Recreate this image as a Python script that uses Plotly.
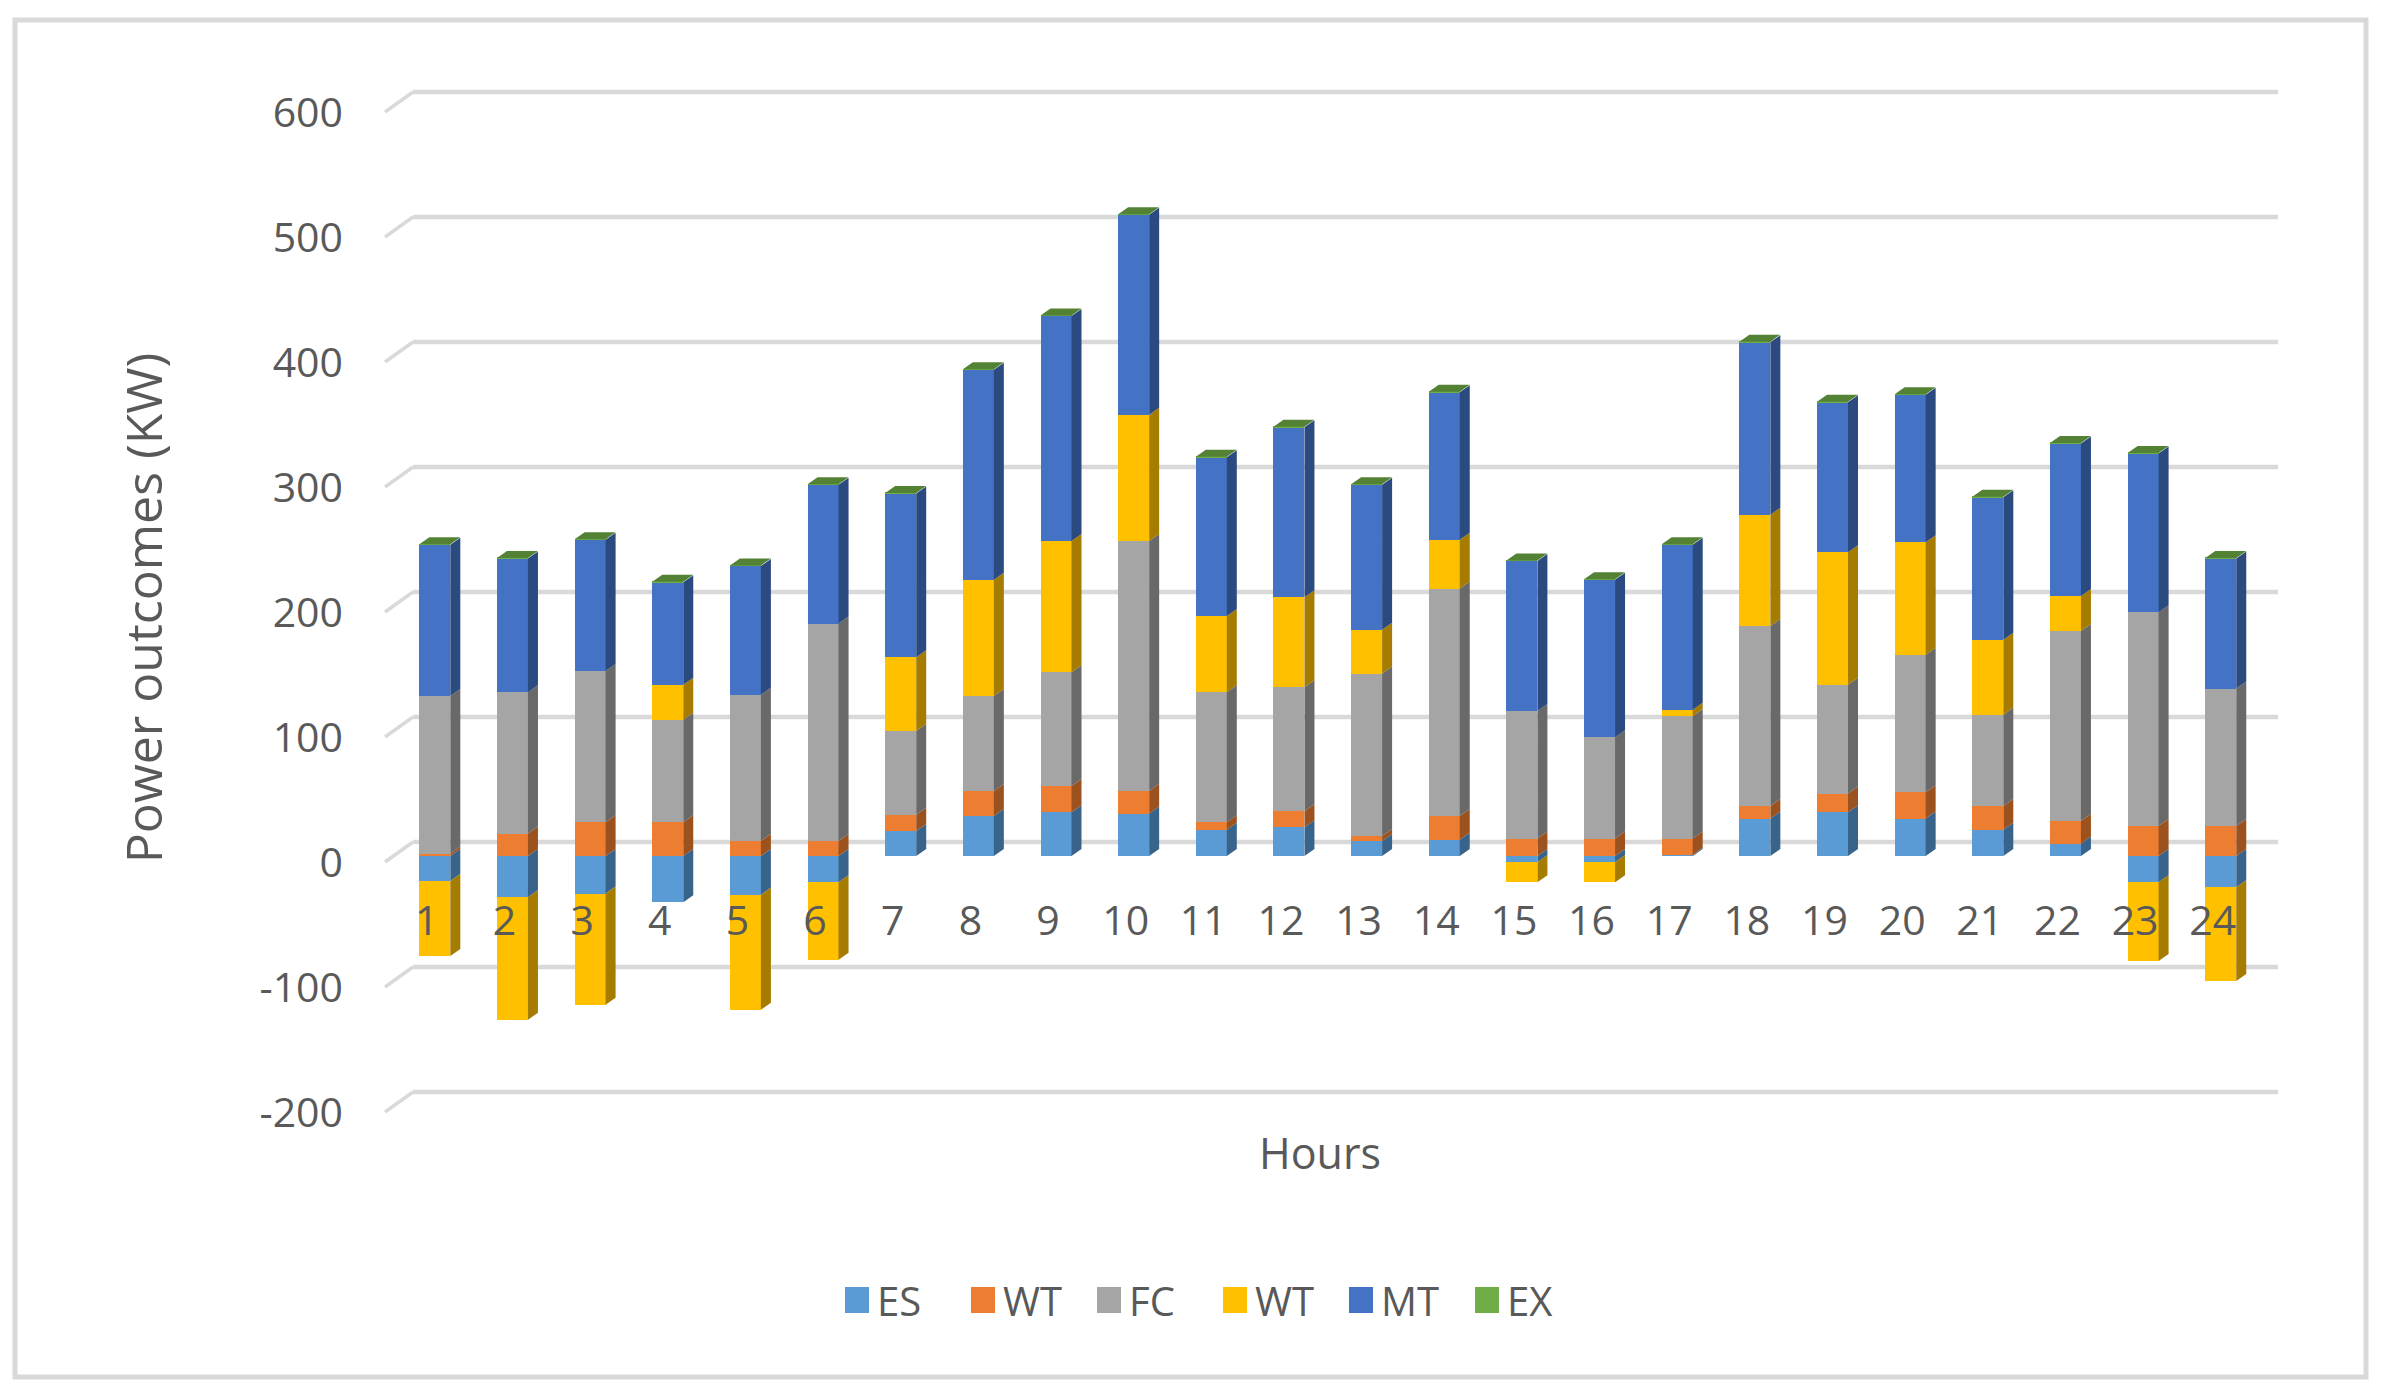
import plotly.graph_objects as go

hours = list(range(1, 25))
es = [-20, -33, -30, -37, -31, -21, 20, 32, 35, 34, 21, 23, 12, 13, -5, -5, 1, 30, 35, 30, 21, 10, -21, -25]
wt1 = [2, 18, 27, 27, 12, 12, 13, 20, 21, 18, 6, 13, 4, 19, 14, 14, 13, 10, 15, 21, 19, 18, 24, 24]
fc = [126, 113, 121, 82, 117, 174, 67, 76, 91, 200, 104, 99, 130, 182, 102, 81, 98, 144, 87, 110, 73, 152, 171, 110]
wt2 = [-60, -98, -89, 28, -92, -62, 59, 93, 105, 101, 61, 72, 35, 39, -16, -16, 5, 89, 106, 90, 60, 28, -63, -75]
mt = [121, 107, 105, 82, 103, 111, 131, 168, 180, 160, 127, 136, 116, 118, 120, 126, 132, 138, 120, 118, 114, 122, 127, 104]
ex = [0.5] * 24
names = ["ES", "WT", "FC", "WT", "MT", "EX"]
series = [es, wt1, fc, wt2, mt, ex]
colors = ["#5B9BD5", "#ED7D31", "#A5A5A5", "#FFC000", "#4472C4", "#70AD47"]
sides = ["#38648C", "#9C521E", "#696969", "#A67C00", "#2A4A80", "#548235"]
y_ticks = [600, 500, 400, 300, 200, 100, 0, -100, -200]
y_tick_text = ["600", "500", "400", "300", "200", "100", "0", "-100", "-200"]
x_title = "Hours"
y_title = "Power outcomes (KW)"

W, H = 2384, 1394
px_per_hour, px_per_unit = 77.65, 1.25
x0_px, y0_px = 434.8, 856.0
left, right, top, bottom = 362, 2278, 80, 1136
x_range = [1 + (left - x0_px) / px_per_hour, 1 + (right - x0_px) / px_per_hour]
y_range = [(y0_px - bottom) / px_per_unit, (y0_px - top) / px_per_unit]
bar_w = 31 / px_per_hour
dx = 10 / px_per_hour
dy = 7 / px_per_unit

fig = go.Figure()
pos = [0.0] * 24
neg = [0.0] * 24
for name, vals, col, side in zip(names, series, colors, sides):
    xs, ys = [], []
    for i, (h, v) in enumerate(zip(hours, vals)):
        base = pos if v >= 0 else neg
        a, b = base[i], base[i] + v
        base[i] = b
        r = h + bar_w / 2
        xs += [r, r + dx, r + dx, r, r, None]
        ys += [a, a + dy, b + dy, b, a, None]
    fig.add_trace(go.Scatter(x=xs, y=ys, mode="lines", fill="toself", fillcolor=side,
                             line=dict(width=0, color=side), hoverinfo="skip", showlegend=False))

cx, cy = [], []
for i, h in enumerate(hours):
    l, r = h - bar_w / 2, h + bar_w / 2
    t = pos[i]
    cx += [l, r, r + dx, l + dx, l, None]
    cy += [t, t, t + dy, t + dy, t, None]
fig.add_trace(go.Scatter(x=cx, y=cy, mode="lines", fill="toself", fillcolor=sides[5],
                         line=dict(width=0, color=sides[5]), hoverinfo="skip", showlegend=False))

for name, vals, col in zip(names, series, colors):
    fig.add_trace(go.Bar(x=hours, y=vals, name=name, width=bar_w, marker=dict(color=col, line=dict(width=0))))

grid_color = "#D9D9D9"
back_dy = 14 / px_per_unit
front_dy = -6 / px_per_unit
xb = 1 + (413 - x0_px) / px_per_hour
xf = 1 + (385 - x0_px) / px_per_hour
shapes = [dict(type="rect", xref="paper", yref="paper", x0=15 / W, x1=2366 / W, y0=1 - 1377 / H, y1=1 - 20 / H,
               line=dict(color=grid_color, width=5), layer="below")]
for v in y_ticks:
    shapes.append(dict(type="line", xref="x", yref="y", x0=xb, x1=x_range[1], y0=v + back_dy, y1=v + back_dy,
                       line=dict(color=grid_color, width=4.5), layer="below"))
    shapes.append(dict(type="line", xref="x", yref="y", x0=xf, x1=xb, y0=v + front_dy, y1=v + back_dy,
                       line=dict(color=grid_color, width=3.5), layer="below"))

font = "Open Sans"
txt = "#595959"
fig.update_layout(
    width=W, height=H, margin=dict(l=0, r=0, t=0, b=0), autosize=False,
    paper_bgcolor="white", plot_bgcolor="rgba(0,0,0,0)", barmode="relative",
    font=dict(family=font, size=41, color=txt), shapes=shapes,
    xaxis=dict(domain=[left / W, right / W], range=x_range, tickmode="array", tickvals=hours,
               ticktext=[str(h) for h in hours], showgrid=False, zeroline=False, showline=False, ticks="",
               anchor="free", position=1 - 893 / H, ticklabelshift=-8, automargin=False,
               title=dict(text=x_title, standoff=192, font=dict(size=43, color=txt))),
    yaxis=dict(domain=[1 - bottom / H, 1 - top / H], range=y_range, tickmode="array", tickvals=y_ticks,
               ticktext=y_tick_text,
               showgrid=False, zeroline=False, showline=False, ticks="", ticklabelshift=7, ticklabelstandoff=18,
               automargin=False, title=dict(text=y_title, standoff=80, font=dict(size=50, color=txt))),
    legend=dict(orientation="h", x=0.5 + 23 / W, xanchor="center", y=1 - 1300 / H, yanchor="middle",
                font=dict(size=40, color=txt), itemwidth=30, traceorder="normal", itemclick=False,
                entrywidth=81, entrywidthmode="pixels"),
    bargap=0,
)
post = """
document.body.style.margin='0';
document.querySelectorAll('.legend .legendpoints path').forEach(function(p){
  if(p.getAttribute('d')&&p.getAttribute('d').indexOf('M6,6')===0){p.setAttribute('d','M12,13H-12V-13H12Z');}
});
"""
fig.write_html("out.html", post_script=post, config={"displayModeBar": False})
